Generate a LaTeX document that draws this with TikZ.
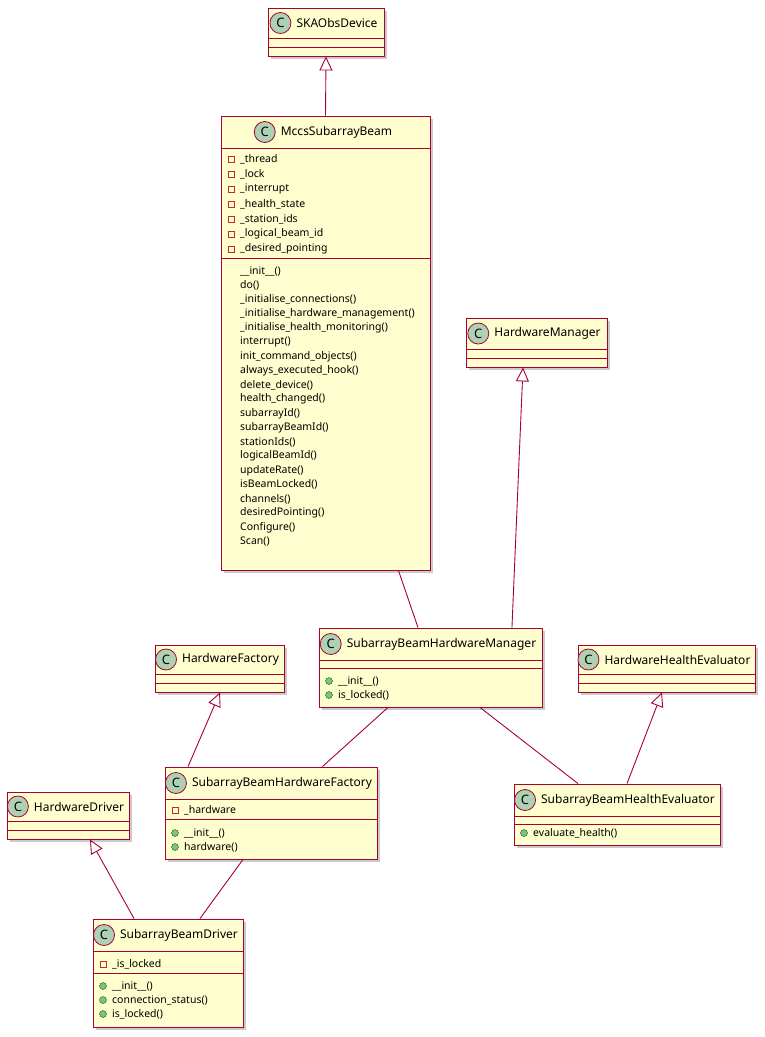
\documentclass[tikz,border=0pt]{standalone}
\usepackage{fontspec}
\setmainfont{Noto Sans}
\usetikzlibrary{arrows.meta,shadows,fit}
\definecolor{bd}{HTML}{A80036}
\definecolor{bg}{HTML}{FEFECE}
\definecolor{ic}{HTML}{ADD1B2}
\definecolor{pub}{HTML}{84BE84}
\definecolor{prv}{HTML}{C82930}
\tikzset{
 clsbox/.style={draw=bd,fill=bg,line width=0.9pt,inner sep=0pt,
   drop shadow={shadow xshift=3pt,shadow yshift=-3pt,opacity=0.35,fill=black!60}},
 sep/.style={draw=bd,line width=0.9pt},
 cname/.style={font=\fontsize{12}{14}\selectfont,inner sep=0pt},
 mtext/.style={font=\fontsize{10.5}{12}\selectfont,anchor=west,inner sep=0pt},
 cicon/.style={circle,draw=bd,fill=ic,minimum size=21pt,inner sep=0pt,line width=0.8pt,
   font=\fontsize{13}{13}\selectfont\bfseries},
 rel/.style={draw=bd,line width=0.9pt},
 inh/.style={rel,-{Triangle[open,width=13pt,length=14pt,fill=white]}},
}
\newcommand\umlcls[8]{%
 \node[clsbox,fit={(#3,#4)(#5,#6)}] (#1) {};
 \node[cname] (#1t) at ({(#3+#5)/2+11},{(#4+#7)/2}) {#2};
 \node[cicon,anchor=east] (#1c) at ([xshift=-5pt]#1t.west) {C};
 \draw[sep] (#3,#7) -- (#5,#7);
 \draw[sep] (#3,#8) -- (#5,#8);
}
\newcommand\umlmem[4]{%
 \ifx a#1\draw[prv,line width=0.8pt] ({#2-3},{#3-3}) rectangle ({#2+3},{#3+3});\fi
 \ifx p#1\fill[prv] ({#2-3.5},{#3-3.5}) rectangle ({#2+3.5},{#3+3.5});\fi
 \ifx m#1\fill[pub] (#2,#3) circle (3.5);\draw[green!40!black,line width=0.4pt] (#2,#3) circle (3.5);\fi
 \node[mtext] at ({#2+9},#3) {#4};
}
\begin{document}
\begin{tikzpicture}[x=1pt,y=-1pt]
\useasboundingbox (0,0) rectangle (765,1037);
\umlcls{ska}{SKAObsDevice}{268}{8}{384}{56}{38}{47}
\umlcls{mccs}{MccsSubarrayBeam}{221}{116}{430}{570}{148}{258}
\foreach \t [count=\i from 0] in {\_thread,\_lock,\_interrupt,\_health\_state,\_station\_ids,\_logical\_beam\_id,\_desired\_pointing}
  {\umlmem{a}{231}{159+15*\i}{\t}}
\foreach \ty/\t [count=\i from 0] in {m/\_\_init\_\_(),m/do(),p/\_initialise\_connections(),p/\_initialise\_hardware\_management(),p/\_initialise\_health\_monitoring(),m/interrupt(),m/init\_command\_objects(),m/always\_executed\_hook(),m/delete\_device(),m/health\_changed(),m/subarrayId(),m/subarrayBeamId(),m/stationIds(),m/logicalBeamId(),m/updateRate(),m/isBeamLocked(),m/channels(),m/desiredPointing(),m/Configure(),m/Scan()}
  {\umlmem{\ty}{231}{271+14.25*\i}{\t}}
\umlcls{hm}{HardwareManager}{466}{318}{607}{367}{349}{358}
\umlcls{sbhm}{SubarrayBeamHardwareManager}{319}{628}{542}{707}{660}{668}
\umlmem{m}{329}{681}{\_\_init\_\_()}
\umlmem{m}{329}{695}{is\_locked()}
\umlcls{hf}{HardwareFactory}{155}{645}{284}{692}{674}{683}
\umlcls{hhe}{HardwareHealthEvaluator}{578}{645}{755}{692}{674}{683}
\umlcls{sbhf}{SubarrayBeamHardwareFactory}{165}{767}{377}{859}{799}{819}
\umlmem{a}{175}{810}{\_hardware}
\umlmem{m}{175}{833}{\_\_init\_\_()}
\umlmem{m}{175}{847}{hardware()}
\umlcls{sbhe}{SubarrayBeamHealthEvaluator}{514}{784}{720}{845}{816}{824}
\umlmem{m}{524}{833}{evaluate\_health()}
\umlcls{hd}{HardwareDriver}{7}{792}{129}{839}{821}{830}
\umlcls{sbd}{SubarrayBeamDriver}{93}{919}{243}{1027}{951}{973}
\umlmem{a}{103}{964}{\_is\_locked}
\umlmem{m}{103}{986}{\_\_init\_\_()}
\umlmem{m}{103}{1000}{connection\_status()}
\umlmem{m}{103}{1014}{is\_locked()}
\draw[inh] (mccs.north) -- (ska.south);
\draw[inh] ([xshift=-30.5pt]sbhm.north east) -- ([xshift=-13.5pt]hm.south);
\draw[rel] ([xshift=-32pt]mccs.south east) -- ([xshift=-12.5pt]sbhm.north);
\draw[inh] ([xshift=23.5pt]sbhf.north west) -- ([xshift=0.5pt]hf.south);
\draw[rel] ([xshift=-42.5pt]sbhm.south) -- ([xshift=-55pt]sbhf.north east);
\draw[rel] ([xshift=49.5pt]sbhm.south) -- ([xshift=-39pt]sbhe.north);
\draw[inh] ([xshift=10pt]sbhe.north) -- ([xshift=-4.5pt]hhe.south);
\draw[inh] ([xshift=-34pt]sbd.north) -- ([xshift=22pt]hd.south);
\draw[rel] ([xshift=-28pt]sbhf.south) -- ([xshift=32pt]sbd.north);
\end{tikzpicture}
\end{document}
